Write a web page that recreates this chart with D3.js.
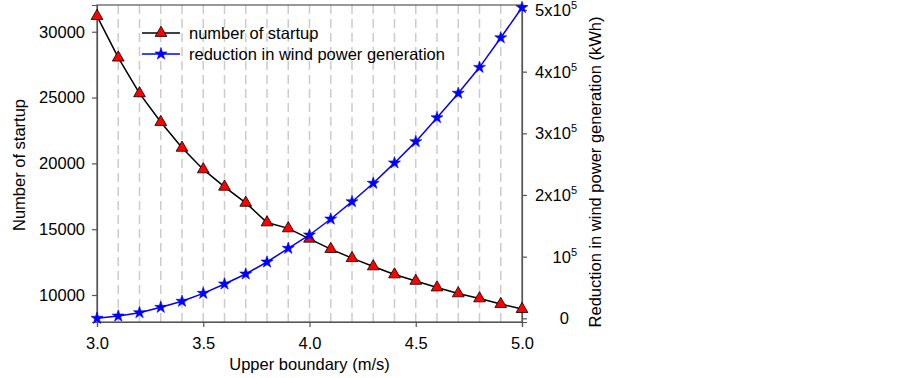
<!DOCTYPE html>
<html>
<head>
<meta charset="utf-8">
<script src="https://cdn.jsdelivr.net/npm/d3@7"></script>
<style>
  body { margin: 0; background: #fff; }
  text { font-family: "Liberation Sans", Arial, sans-serif; fill: #000; }
</style>
</head>
<body>
<div id="chart"></div>
<script>
var speeds = [3.0, 3.1, 3.2, 3.3, 3.4, 3.5, 3.6, 3.7, 3.8, 3.9, 4.0,
              4.1, 4.2, 4.3, 4.4, 4.5, 4.6, 4.7, 4.8, 4.9, 5.0];
var startups = [31190, 28030, 25320, 23140, 21180, 19540, 18220, 17000, 15510, 15060, 14270,
                13490, 12800, 12170, 11560, 11070, 10570, 10120, 9740, 9310, 8930];
var reduction = [0, 3700, 9100, 17800, 27600, 40500, 55600, 71900, 91300, 113500, 135100,
                 161000, 189100, 219000, 252000, 286500, 325400, 365000, 407000, 455000, 504000];
var xTicks = [3.0, 3.5, 4.0, 4.5, 5.0];
var leftTicks = [10000, 15000, 20000, 25000, 30000];
var rightTicks = [0, 1, 2, 3, 4, 5]; // x10^5
var legendLabels = ["number of startup", "reduction in wind power generation"];

function drawChart() {
  var width = 903, height = 378;
  var pLeft = 97, pRight = 522, pTop = 5, pBottom = 322;
  var fontSize = "16.5px";

  var svg = d3.select("#chart").append("svg")
              .attr("width", width)
              .attr("height", height);

  var xScale = d3.scaleLinear().domain([3, 5]).range([pLeft, pRight]);
  var yLeft = d3.scaleLinear().domain([7950, 32030]).range([pBottom, pTop]);
  var yRight = d3.scaleLinear().domain([-6000, 508100]).range([pBottom, pTop]);

  // dashed vertical grid
  svg.append("g")
     .selectAll("line")
     .data(speeds.slice(1, speeds.length - 1))
     .enter().append("line")
     .attr("x1", function(d) { return xScale(d); })
     .attr("x2", function(d) { return xScale(d); })
     .attr("y1", pTop)
     .attr("y2", pBottom)
     .attr("stroke", "#cccccc")
     .attr("stroke-width", 1.5)
     .attr("stroke-dasharray", "9,5");

  // frame
  svg.append("rect")
     .attr("x", pLeft).attr("y", pTop)
     .attr("width", pRight - pLeft).attr("height", pBottom - pTop)
     .attr("fill", "none")
     .attr("stroke", "#555")
     .attr("stroke-width", 1.2);

  // axes
  var xAxis = d3.axisBottom(xScale).tickValues(xTicks).tickSize(5).tickPadding(10)
                .tickFormat(d3.format(".1f"));
  var gx = svg.append("g")
     .attr("class", "x_axis")
     .attr("transform", "translate(0," + pBottom + ")")
     .call(xAxis);

  var yAxisL = d3.axisLeft(yLeft).tickValues(leftTicks).tickSize(5).tickPadding(7)
                 .tickFormat(d3.format("d"));
  var gyl = svg.append("g")
     .attr("class", "y_axis")
     .attr("transform", "translate(" + pLeft + ",0)")
     .call(yAxisL);

  var yAxisR = d3.axisRight(yRight).tickValues(rightTicks.map(function(d) { return d * 1e5; }))
                 .tickSize(5).tickPadding(6).tickFormat("");
  var gyr = svg.append("g")
     .attr("class", "y_axis_r")
     .attr("transform", "translate(" + pRight + ",0)")
     .call(yAxisR);

  [gx, gyl, gyr].forEach(function(g) {
    g.select(".domain").attr("stroke", "#555").attr("stroke-width", 1.2);
    g.selectAll(".tick line").attr("stroke", "#555").attr("stroke-width", 1.2);
    g.selectAll(".tick text").style("font-size", fontSize).attr("fill", "#000");
  });

  // right tick labels with superscript
  var rLabels = svg.append("g").selectAll("text")
     .data(rightTicks)
     .enter().append("text")
     .attr("x", 577)
     .attr("y", function(d) { return yRight(d * 1e5) + 6; })
     .attr("text-anchor", "end")
     .style("font-size", fontSize);
  rLabels.each(function(d) {
    var t = d3.select(this);
    if (d === 0) { t.attr("x", 569).text("0"); return; }
    if (d === 1) { t.append("tspan").text("10"); }
    else { t.append("tspan").text(d + "x10"); }
    t.append("tspan").attr("dy", -7).style("font-size", "11px").text("5");
  });

  // axis titles
  svg.append("text")
     .attr("x", (pLeft + pRight) / 2)
     .attr("y", 370)
     .attr("text-anchor", "middle")
     .style("font-size", fontSize)
     .text("Upper boundary (m/s)");

  svg.append("text")
     .attr("transform", "translate(25,165) rotate(-90)")
     .attr("text-anchor", "middle")
     .style("font-size", fontSize)
     .text("Number of startup");

  svg.append("text")
     .attr("transform", "translate(601,172) rotate(-90)")
     .attr("text-anchor", "middle")
     .style("font-size", fontSize)
     .text("Reduction in wind power generation (kWh)");

  // lines
  var lineL = d3.line()
                .x(function(d, i) { return xScale(speeds[i]); })
                .y(function(d) { return yLeft(d); });
  var lineR = d3.line()
                .x(function(d, i) { return xScale(speeds[i]); })
                .y(function(d) { return yRight(d); });

  svg.append("path")
     .datum(startups)
     .attr("d", lineL)
     .attr("fill", "none")
     .attr("stroke", "#000")
     .attr("stroke-width", 1.5);

  svg.append("path")
     .datum(reduction)
     .attr("d", lineR)
     .attr("fill", "none")
     .attr("stroke", "#0000ff")
     .attr("stroke-width", 1.5);

  var tri = d3.symbol().type(d3.symbolTriangle).size(60);
  var star = d3.symbol().type(d3.symbolStar).size(45);

  svg.append("g").selectAll("path")
     .data(startups)
     .enter().append("path")
     .attr("d", tri)
     .attr("transform", function(d, i) { return "translate(" + xScale(speeds[i]) + "," + yLeft(d) + ")"; })
     .attr("fill", "#ff0000")
     .attr("stroke", "#000")
     .attr("stroke-width", 0.8);

  svg.append("g").selectAll("path")
     .data(reduction)
     .enter().append("path")
     .attr("d", star)
     .attr("transform", function(d, i) { return "translate(" + xScale(speeds[i]) + "," + yRight(d) + ")"; })
     .attr("fill", "#0000ff")
     .attr("stroke", "#0000ff")
     .attr("stroke-width", 0.6);

  // legend
  var legend = svg.append("g");
  var legColors = ["#000", "#0000ff"];
  legendLabels.forEach(function(label, i) {
    var y = 33 + i * 21;
    legend.append("line")
          .attr("x1", 142).attr("x2", 180)
          .attr("y1", y).attr("y2", y)
          .attr("stroke", legColors[i])
          .attr("stroke-width", 1.5);
    legend.append("path")
          .attr("d", i === 0 ? tri : star)
          .attr("transform", "translate(161," + y + ")")
          .attr("fill", i === 0 ? "#ff0000" : "#0000ff")
          .attr("stroke", i === 0 ? "#000" : "#0000ff")
          .attr("stroke-width", i === 0 ? 0.8 : 0.6);
    legend.append("text")
          .attr("x", 189)
          .attr("y", y + 6)
          .style("font-size", fontSize)
          .text(label);
  });
}

drawChart();
</script>
</body>
</html>
